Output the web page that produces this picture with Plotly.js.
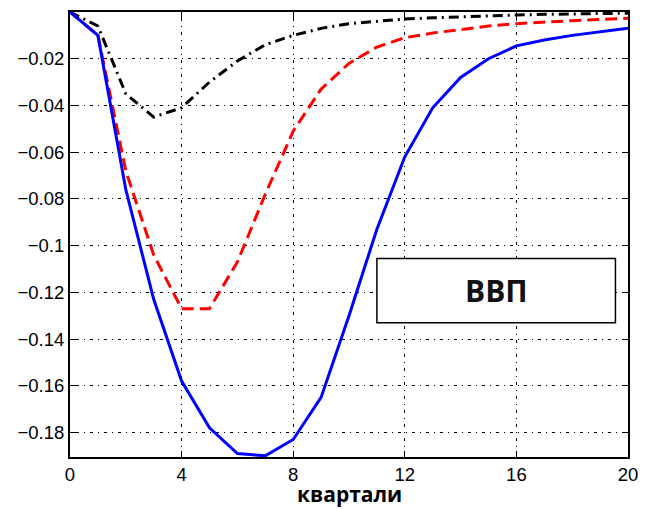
<!DOCTYPE html>
<html>
<head>
<meta charset="utf-8">
<script src="https://cdn.plot.ly/plotly-3.0.1.min.js"></script>
<style>html,body{margin:0;padding:0;background:#fff;}#chart{width:646px;height:509px;}</style>
</head>
<body>
<div id="chart"></div>
<script>
const quarters = [0,1,2,3,4,5,6,7,8,9,10,11,12,13,14,15,16,17,18,19,20];
const blueSeries = [0,-0.010,-0.076,-0.123,-0.158,-0.178,-0.189,-0.190,-0.183,-0.165,-0.130,-0.093,-0.062,-0.041,-0.028,-0.020,-0.0145,-0.012,-0.010,-0.0085,-0.007];
const redSeries = [0,-0.010,-0.068,-0.104,-0.127,-0.127,-0.107,-0.078,-0.051,-0.033,-0.022,-0.015,-0.011,-0.009,-0.0075,-0.006,-0.005,-0.0042,-0.0037,-0.0032,-0.0027];
const blackSeries = [0,-0.006,-0.035,-0.045,-0.041,-0.030,-0.021,-0.014,-0.010,-0.007,-0.005,-0.004,-0.003,-0.0025,-0.002,-0.0016,-0.0013,-0.001,-0.0008,-0.0006,-0.0005];
const xTicks = [0,4,8,12,16,20];
const yTicks = [-0.02,-0.04,-0.06,-0.08,-0.1,-0.12,-0.14,-0.16,-0.18];
const yTickText = ["\u22120.02","\u22120.04","\u22120.06","\u22120.08","\u22120.1","\u22120.12","\u22120.14","\u22120.16","\u22120.18"];
const xTitle = "квартали";
const boxLabel = "ВВП";

const traces = [
  {x: quarters, y: blackSeries, mode: 'lines', line: {color: '#000000', width: 3, dash: '10px,5px,2px,5px'}},
  {x: quarters, y: redSeries, mode: 'lines', line: {color: '#ff0000', width: 3, dash: '12px,6px'}},
  {x: quarters, y: blueSeries, mode: 'lines', line: {color: '#0000ff', width: 3}}
];

const layout = {
  width: 646, height: 509,
  margin: {l: 70, r: 18, t: 12, b: 52},
  paper_bgcolor: '#ffffff', plot_bgcolor: '#ffffff',
  showlegend: false,
  font: {family: '"Liberation Sans", Arial, sans-serif', size: 18.5, color: '#000'},
  xaxis: {
    range: [0, 20], tickvals: xTicks, ticktext: xTicks.map(String),
    showgrid: true, gridcolor: '#000', gridwidth: 1, griddash: '1px,5px,3px,5px',
    zeroline: false, showline: true, linecolor: '#000', linewidth: 2, mirror: 'ticks',
    ticks: 'inside', ticklen: 6, tickcolor: '#000',
    tickfont: {size: 18.5, color: '#000'}
  },
  yaxis: {
    range: [-0.1905, 0], tickvals: yTicks, ticktext: yTickText,
    showgrid: true, gridcolor: '#000', gridwidth: 1, griddash: '1px,5px,3px,5px',
    zeroline: false, showline: true, linecolor: '#000', linewidth: 2, mirror: 'ticks',
    ticks: 'inside', ticklen: 6, tickcolor: '#000',
    tickfont: {size: 18.5, color: '#000'}
  },
  shapes: [
    {type: 'rect', xref: 'x', yref: 'y', x0: 11, x1: 19.55, y0: -0.1055, y1: -0.1330,
     line: {color: '#000', width: 1.5}, fillcolor: '#ffffff', layer: 'above'}
  ],
  annotations: [
    {x: 15.28, y: -0.1193, xref: 'x', yref: 'y', text: boxLabel, showarrow: false,
     font: {family: '"Open Sans", "Noto Sans", sans-serif', size: 30, color: '#111', weight: 'bold'}},
    {x: 0.5, y: -0.1169, xref: 'paper', yref: 'paper', xanchor: 'center', yanchor: 'bottom',
     text: xTitle, showarrow: false, borderpad: 0,
     font: {family: '"Open Sans", "Noto Sans", sans-serif', size: 21, color: '#000', weight: 'bold'}}
  ]
};

Plotly.newPlot('chart', traces, layout, {displayModeBar: false, staticPlot: true});
</script>
</body>
</html>
